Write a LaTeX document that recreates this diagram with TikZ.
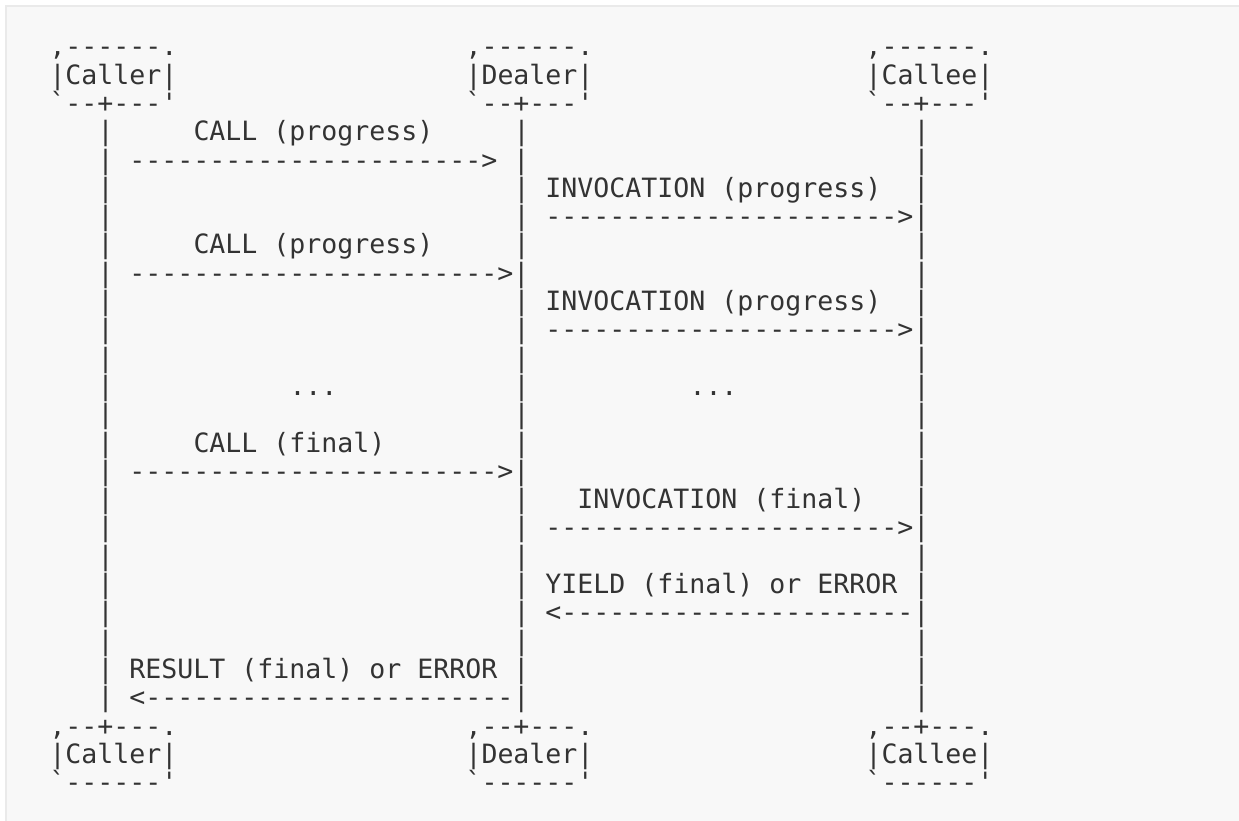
\documentclass[tikz,border=0pt]{standalone}
\usepackage{fontspec}
\setmonofont{DejaVu Sans Mono}
\definecolor{ink}{HTML}{333333}
\definecolor{panel}{HTML}{F8F8F8}
\definecolor{edgegray}{HTML}{EAEAEA}
\newlength\cw
\setlength\cw{16pt}
\newcommand\sk[1]{\hbox to #1\cw{}}
\newcommand\dten{----------}
\newcommand\dtt{\dten\dten--}
\newcommand\dtth{\dten\dten---}
\tikzset{
  asciirow/.style={anchor=base west, inner sep=0pt, outer sep=0pt, text=ink,
    font=\ttfamily\fontsize{26.576pt}{28.3pt}\selectfont},
}
\newcommand\rowat[3]{\node[asciirow] (#1) at (49.5,{55.8+28.3*#2}) {#3};}
\begin{document}
\begin{tikzpicture}[x=1pt,y=-1pt]
\useasboundingbox (0,0) rectangle (1239,820);
\fill[white] (0,0) rectangle (1239,820);
\draw[edgegray, fill=panel, line width=2pt] (5.5,5.5) rectangle (1250,830);
% heads
\rowat{r0}{0}{,------.\sk{18},------.\sk{17},------.}
\rowat{r1}{1}{|Caller|\sk{18}|Dealer|\sk{17}|Callee|}
\rowat{r2}{2}{`--+---'\sk{18}`--+---'\sk{17}`--+---'}
% messages
\rowat{r3}{3}{\sk{3}|\sk{5}CALL\sk{1}(progress)\sk{5}|\sk{24}|}
\rowat{r4}{4}{\sk{3}|\sk{1}\dtt>\sk{1}|\sk{24}|}
\rowat{r5}{5}{\sk{3}|\sk{25}|\sk{1}INVOCATION\sk{1}(progress)\sk{2}|}
\rowat{r6}{6}{\sk{3}|\sk{25}|\sk{1}\dtt>|}
\rowat{r7}{7}{\sk{3}|\sk{5}CALL\sk{1}(progress)\sk{5}|\sk{24}|}
\rowat{r8}{8}{\sk{3}|\sk{1}\dtth>|\sk{24}|}
\rowat{r9}{9}{\sk{3}|\sk{25}|\sk{1}INVOCATION\sk{1}(progress)\sk{2}|}
\rowat{r10}{10}{\sk{3}|\sk{25}|\sk{1}\dtt>|}
\rowat{r11}{11}{\sk{3}|\sk{25}|\sk{24}|}
\rowat{r12}{12}{\sk{3}|\sk{11}...\sk{11}|\sk{10}...\sk{11}|}
\rowat{r13}{13}{\sk{3}|\sk{25}|\sk{24}|}
\rowat{r14}{14}{\sk{3}|\sk{5}CALL\sk{1}(final)\sk{8}|\sk{24}|}
\rowat{r15}{15}{\sk{3}|\sk{1}\dtth>|\sk{24}|}
\rowat{r16}{16}{\sk{3}|\sk{25}|\sk{3}INVOCATION\sk{1}(final)\sk{3}|}
\rowat{r17}{17}{\sk{3}|\sk{25}|\sk{1}\dtt>|}
\rowat{r18}{18}{\sk{3}|\sk{25}|\sk{24}|}
\rowat{r19}{19}{\sk{3}|\sk{25}|\sk{1}YIELD\sk{1}(final)\sk{1}or\sk{1}ERROR\sk{1}|}
\rowat{r20}{20}{\sk{3}|\sk{25}|\sk{1}<\dtt|}
\rowat{r21}{21}{\sk{3}|\sk{25}|\sk{24}|}
\rowat{r22}{22}{\sk{3}|\sk{1}RESULT\sk{1}(final)\sk{1}or\sk{1}ERROR\sk{1}|\sk{24}|}
\rowat{r23}{23}{\sk{3}|\sk{1}<\dtth|\sk{24}|}
% feet
\rowat{r24}{24}{,--+---.\sk{18},--+---.\sk{17},--+---.}
\rowat{r25}{25}{|Caller|\sk{18}|Dealer|\sk{17}|Callee|}
\rowat{r26}{26}{`------'\sk{18}`------'\sk{17}`------'}
\end{tikzpicture}
\end{document}
